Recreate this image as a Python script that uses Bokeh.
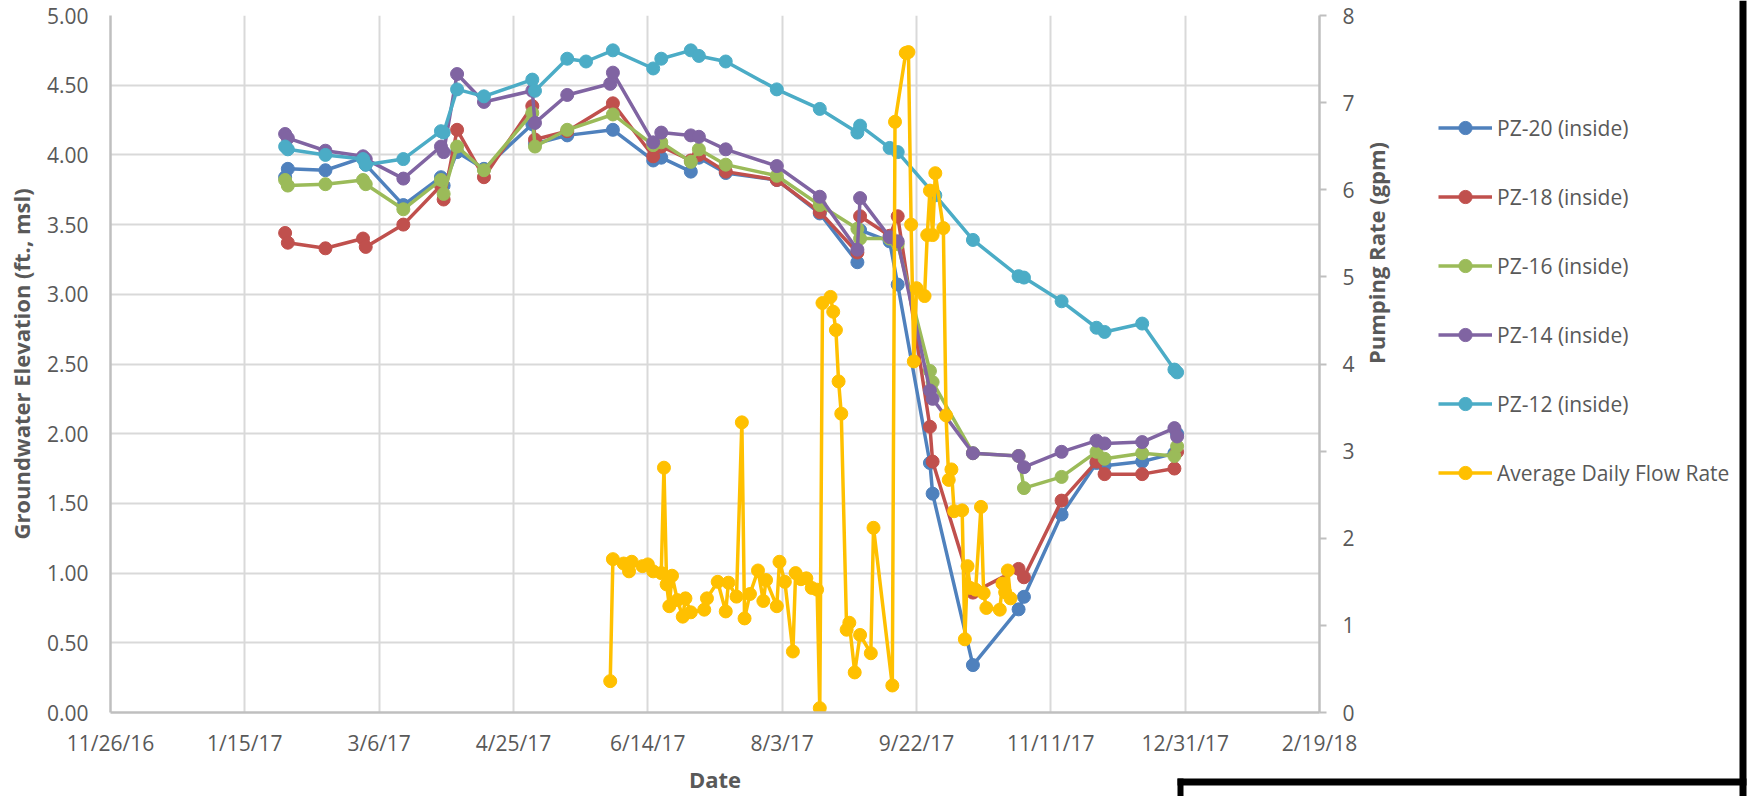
import math
import pandas as pd
from bokeh.plotting import figure
from bokeh.models import (Range1d, LinearAxis, FixedTicker, Legend, LegendItem,
                          NumeralTickFormatter, GridBox, Plot)
from bokeh.embed import file_html
from bokeh.resources import INLINE

# ---------------- data ----------------
tick_dates = ["2016-11-26", "2017-01-15", "2017-03-06", "2017-04-25", "2017-06-14",
              "2017-08-03", "2017-09-22", "2017-11-11", "2017-12-31", "2018-02-19"]
tick_labels = ["11/26/16", "1/15/17", "3/6/17", "4/25/17", "6/14/17",
               "8/3/17", "9/22/17", "11/11/17", "12/31/17", "2/19/18"]

gw_dates = ["2017-01-30", "2017-01-31", "2017-02-14", "2017-02-28", "2017-03-01",
            "2017-03-15", "2017-03-29", "2017-03-30", "2017-04-04", "2017-04-14",
            "2017-05-02", "2017-05-03", "2017-05-15", "2017-05-22", "2017-05-31",
            "2017-06-01", "2017-06-16", "2017-06-19", "2017-06-30", "2017-07-03",
            "2017-07-13", "2017-08-01", "2017-08-17", "2017-08-31", "2017-09-01",
            "2017-09-12", "2017-09-15", "2017-09-27", "2017-09-28", "2017-09-29",
            "2017-10-13", "2017-10-30", "2017-11-01", "2017-11-15", "2017-11-28",
            "2017-12-01", "2017-12-15", "2017-12-27", "2017-12-28"]

pz20 = [3.84, 3.90, 3.89, 3.98, 3.93, 3.64, 3.84, 3.78, 4.02, 3.90,
        4.22, 4.08, 4.14, None, None, 4.18, 3.96, 3.98, 3.88, 3.98,
        3.87, 3.82, 3.58, 3.23, 3.46, 3.38, 3.07, 1.79, 1.57, None,
        0.34, 0.74, 0.83, 1.42, 1.79, 1.77, 1.80, 1.86, 2.00]
pz18 = [3.44, 3.37, 3.33, 3.40, 3.34, 3.50, 3.78, 3.68, 4.18, 3.84,
        4.35, 4.11, 4.17, None, None, 4.37, 3.99, 4.06, 3.96, 4.00,
        3.88, 3.82, 3.59, 3.30, 3.56, 3.42, 3.56, 2.05, 1.80, None,
        0.86, 1.03, 0.97, 1.52, 1.80, 1.71, 1.71, 1.75, 1.87]
pz16 = [3.82, 3.78, 3.79, 3.82, 3.79, 3.61, 3.82, 3.72, 4.06, 3.89,
        4.30, 4.06, 4.18, None, None, 4.29, 4.07, 4.09, 3.95, 4.04,
        3.93, 3.85, 3.64, 3.47, 3.40, 3.40, 3.36, 2.45, 2.37, None,
        1.86, 1.84, 1.61, 1.69, 1.87, 1.82, 1.86, 1.84, 1.91]
pz14 = [4.15, 4.12, 4.03, 3.99, 3.97, 3.83, 4.06, 4.02, 4.58, 4.38,
        4.46, 4.23, 4.43, None, 4.51, 4.59, 4.09, 4.16, 4.14, 4.13,
        4.04, 3.92, 3.70, 3.32, 3.69, 3.41, 3.38, 2.31, 2.25, None,
        1.86, 1.84, 1.76, 1.87, 1.95, 1.93, 1.94, 2.04, 1.98]
pz12 = [4.06, 4.04, 4.00, 3.97, 3.93, 3.97, 4.17, 4.16, 4.47, 4.42,
        4.54, 4.46, 4.69, 4.67, None, 4.75, 4.62, 4.69, 4.75, 4.71,
        4.67, 4.47, 4.33, 4.16, 4.21, 4.05, 4.02, None, None, 3.71,
        3.39, 3.13, 3.12, 2.95, 2.76, 2.73, 2.79, 2.46, 2.44]

flow_dates = ["2017-05-31", "2017-06-01", "2017-06-05", "2017-06-07", "2017-06-08",
              "2017-06-12", "2017-06-14", "2017-06-16", "2017-06-19", "2017-06-20",
              "2017-06-21", "2017-06-22", "2017-06-23", "2017-06-25", "2017-06-27",
              "2017-06-28", "2017-06-30", "2017-07-05", "2017-07-06", "2017-07-10",
              "2017-07-13", "2017-07-14", "2017-07-17", "2017-07-19", "2017-07-20",
              "2017-07-22", "2017-07-25", "2017-07-27", "2017-07-28", "2017-08-01",
              "2017-08-02", "2017-08-04", "2017-08-07", "2017-08-08", "2017-08-10",
              "2017-08-12", "2017-08-14", "2017-08-16", "2017-08-17", "2017-08-18",
              "2017-08-21", "2017-08-22", "2017-08-23", "2017-08-24", "2017-08-25",
              "2017-08-27", "2017-08-28", "2017-08-30", "2017-09-01", "2017-09-05",
              "2017-09-06", "2017-09-13", "2017-09-14", "2017-09-18", "2017-09-19",
              "2017-09-20", "2017-09-21", "2017-09-22", "2017-09-25", "2017-09-26",
              "2017-09-27", "2017-09-28", "2017-09-29", "2017-10-02", "2017-10-03",
              "2017-10-04", "2017-10-05", "2017-10-06", "2017-10-09", "2017-10-10",
              "2017-10-11", "2017-10-12", "2017-10-14", "2017-10-16", "2017-10-17",
              "2017-10-18", "2017-10-23", "2017-10-24", "2017-10-25", "2017-10-26",
              "2017-10-27"]
flow_gpm = [0.36, 1.76, 1.71, 1.62, 1.73,
            1.68, 1.70, 1.62, 1.60, 2.81,
            1.47, 1.22, 1.57, 1.29, 1.10,
            1.31, 1.15, 1.18, 1.31, 1.50,
            1.16, 1.49, 1.33, 3.33, 1.08,
            1.36, 1.63, 1.28, 1.52, 1.22,
            1.73, 1.50, 0.70, 1.60, 1.53,
            1.54, 1.43, 1.41, 0.05, 4.70,
            4.77, 4.60, 4.39, 3.80, 3.43,
            0.95, 1.03, 0.46, 0.89, 0.68,
            2.12, 0.31, 6.78, 7.57, 7.58,
            5.60, 4.03, 4.87, 4.78, 5.48,
            5.99, 5.48, 6.19, 5.56, 3.41,
            2.67, 2.79, 2.31, 2.32, 0.84,
            1.68, 1.43, 1.41, 2.36, 1.37,
            1.20, 1.18, 1.48, 1.38, 1.63,
            1.31]

series_names = ["PZ-20 (inside)", "PZ-18 (inside)", "PZ-16 (inside)",
                "PZ-14 (inside)", "PZ-12 (inside)"]
series_values = [pz20, pz18, pz16, pz14, pz12]
series_colors = ["#4F81BD", "#C0504D", "#9BBB59", "#8064A2", "#4BACC6"]
flow_name = "Average Daily Flow Rate"
flow_color = "#FFC000"

# ---------------- main chart ----------------
W, H = 1750, 796
FONT = "Open Sans"
TXT = "#595959"

p = figure(width=W, height=H, output_backend="svg", toolbar_location=None,
           x_axis_type="datetime",
           x_range=Range1d(pd.Timestamp(tick_dates[0]), pd.Timestamp(tick_dates[-1])),
           y_range=Range1d(0, 5),
           min_border_left=110, min_border_right=431, min_border_top=15,
           min_border_bottom=83)
p.extra_y_ranges = {"flow": Range1d(0, 8)}
p.outline_line_color = None
p.background_fill_color = "white"
p.border_fill_color = "white"

tick_ms = [int(pd.Timestamp(d).value // 10**6) for d in tick_dates]

xa = p.xaxis[0]
xa.ticker = FixedTicker(ticks=tick_ms)
xa.major_label_overrides = {ms: lab for ms, lab in zip(tick_ms, tick_labels)}
xa.axis_label = "Date"
xa.major_label_standoff = 16
xa.axis_label_standoff = 4

ya = p.yaxis[0]
ya.ticker = FixedTicker(ticks=[i * 0.5 for i in range(11)])
ya.formatter = NumeralTickFormatter(format="0.00")
ya.axis_label = "Groundwater Elevation (ft., msl)"
ya.major_label_standoff = 22
ya.axis_label_standoff = 8

ra = LinearAxis(y_range_name="flow", ticker=FixedTicker(ticks=list(range(9))),
                axis_label="Pumping Rate (gpm)")
ra.major_tick_out = 7
ra.major_label_standoff = 16
ra.axis_label_standoff = 18
ra.axis_label_orientation = math.pi / 2
p.add_layout(ra, "right")

for ax in [xa, ya]:
    ax.major_tick_out = 0
for ax in [xa, ya, ra]:
    ax.major_tick_in = 0
    ax.minor_tick_out = 0
    ax.minor_tick_in = 0
    ax.axis_line_color = "#BFBFBF"
    ax.axis_line_width = 2.5
    ax.major_tick_line_color = "#BFBFBF"
    ax.major_tick_line_width = 2
    ax.major_label_text_font = FONT
    ax.major_label_text_font_size = "21px"
    ax.major_label_text_color = TXT
    ax.axis_label_text_font = FONT
    ax.axis_label_text_font_size = "22px"
    ax.axis_label_text_font_style = "bold"
    ax.axis_label_text_color = TXT

for g in [p.xgrid[0], p.ygrid[0]]:
    g.grid_line_color = "#D9D9D9"
    g.grid_line_width = 2
p.xgrid[0].ticker = xa.ticker
p.ygrid[0].ticker = ya.ticker

for vals, col in zip(series_values, series_colors):
    xs = pd.to_datetime([d for d, v in zip(gw_dates, vals) if v is not None])
    ys = [v for v in vals if v is not None]
    p.line(xs, ys, line_color=col, line_width=3.5, line_join="round")
    p.scatter(xs, ys, size=13, fill_color=col, line_color=col)

fx = pd.to_datetime(flow_dates)
p.line(fx, flow_gpm, line_color=flow_color, line_width=3.5, line_join="round",
       y_range_name="flow")
p.scatter(fx, flow_gpm, size=13, fill_color=flow_color, line_color=flow_color,
          y_range_name="flow")

# ---------------- transparent overlay: legend + neighbouring box edges ----------------
q = figure(width=W, height=H, output_backend="svg", toolbar_location=None,
           x_range=Range1d(0, W), y_range=Range1d(H, 0),
           x_axis_location=None, y_axis_location=None,
           min_border_left=0, min_border_right=0, min_border_top=0, min_border_bottom=0)
q.outline_line_color = None
q.background_fill_color = None
q.border_fill_color = None
q.grid.visible = False

if "frame_align" in Plot.properties():
    p.frame_align = False
    q.frame_align = False

items = []
for name, col in zip(series_names + [flow_name], series_colors + [flow_color]):
    lr = q.line([float("nan")], [float("nan")], line_color=col, line_width=3.5)
    sr = q.scatter([float("nan")], [float("nan")], fill_color=col, line_color=col)
    items.append(LegendItem(label=name, renderers=[lr, sr]))

legend = Legend(items=items, location=(1438, 307), orientation="vertical",
                glyph_width=54, glyph_height=33, label_standoff=5,
                label_height=20, spacing=36, padding=0, margin=0,
                border_line_color=None, background_fill_alpha=0,
                label_text_font=FONT, label_text_font_size="21px",
                label_text_color=TXT)
q.add_layout(legend)

# black edges of the neighbouring box (right side and lower right)
q.quad(left=[1739, 1177, 1177], right=[1746, 1746, 1183],
       top=[0, 778, 778], bottom=[H, 785, H],
       fill_color="black", line_color=None)

page = GridBox(children=[(p, 0, 0), (q, 0, 0)])

open("out.html", "w").write(file_html(page, INLINE))
